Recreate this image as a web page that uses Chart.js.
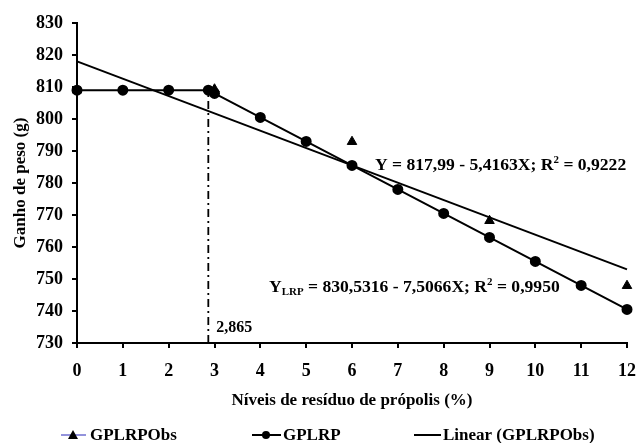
<!DOCTYPE html>
<html>
<head>
<meta charset="utf-8">
<script src="https://cdn.jsdelivr.net/npm/chart.js@4.4.1/dist/chart.umd.min.js"></script>
<style>
    body { margin: 0; background: #fff; overflow: hidden; }
    #wrap { width: 639px; height: 443px; position: relative; }
</style>
</head>
<body>
<div id="wrap"><canvas id="chart"></canvas></div>
<script>
// observed values (triangles)
const obsX = [0, 3, 6, 9, 12];
const obsY = [809.0, 809.3, 792.9, 768.2, 747.9];

// linear response plateau (circles)
const lrpX = [0, 1, 2, 2.865, 3, 4, 5, 6, 7, 8, 9, 10, 11, 12];
const lrpY = [809.0, 809.0, 809.0, 809.0, 808.0, 800.5, 793.0, 785.5, 778.0, 770.5, 763.0, 755.5, 748.0, 740.5];

// linear trend of observed
const linX = [0, 12];
const linY = [818.0, 753.0];

// plateau break
const breakX = 2.865;
const breakLabel = "2,865";

const yMin = 730, yMax = 830, yStep = 10;
const xMin = 0, xMax = 12;

const FONT = "'Liberation Serif', 'Times New Roman', serif";

function pts(xs, ys) {
    return xs.map((x, i) => ({ x: x, y: ys[i] }));
}

// text with sub/superscripts, parts = [[text, kind]]
function drawRich(ctx, parts, x, y, size) {
    let cx = x;
    parts.forEach(([t, kind]) => {
        let s = size, dy = 0;
        if (kind === "sub") { s = size * 0.62; dy = 3; }
        if (kind === "sup") { s = size * 0.62; dy = -7; }
        ctx.font = `bold ${s}px ${FONT}`;
        ctx.fillText(t, cx, y + dy);
        cx += ctx.measureText(t).width;
    });
}

const extras = {
    id: "extras",
    afterDraw(chart) {
        const ctx = chart.ctx;
        const xs = chart.scales.x, ys = chart.scales.y;
        ctx.save();
        ctx.fillStyle = "#000";
        ctx.textBaseline = "alphabetic";
        ctx.textAlign = "left";

        // break value label
        ctx.font = `bold 16px ${FONT}`;
        ctx.fillText(breakLabel, xs.getPixelForValue(breakX) + 8, ys.getPixelForValue(733.4));

        // equations
        drawRich(ctx, [["Y = 817,99 - 5,4163X; R", ""], ["2", "sup"], [" = 0,9222", ""]],
            xs.getPixelForValue(6.5), ys.getPixelForValue(784.1), 17.6);
        drawRich(ctx, [["Y", ""], ["LRP", "sub"], [" = 830,5316 - 7,5066X; R", ""], ["2", "sup"], [" = 0,9950", ""]],
            xs.getPixelForValue(4.19), ys.getPixelForValue(745.9), 17.6);

        // legend
        const ly = 435;
        ctx.font = `bold 17px ${FONT}`;
        ctx.lineWidth = 1;
        ctx.strokeStyle = "#2626b8";
        ctx.beginPath(); ctx.moveTo(61, ly); ctx.lineTo(86, ly); ctx.stroke();
        ctx.beginPath(); ctx.moveTo(73, ly - 5); ctx.lineTo(78, ly + 4); ctx.lineTo(68, ly + 4); ctx.closePath(); ctx.fill();
        ctx.textBaseline = "middle";
        ctx.fillText("GPLRPObs", 90, ly + 1);

        ctx.strokeStyle = "#000";
        ctx.lineWidth = 2;
        ctx.beginPath(); ctx.moveTo(252, ly); ctx.lineTo(281, ly); ctx.stroke();
        ctx.beginPath(); ctx.arc(266, ly, 4, 0, Math.PI * 2); ctx.fill();
        ctx.fillText("GPLRP", 283, ly + 1);

        ctx.beginPath(); ctx.moveTo(414, ly); ctx.lineTo(441, ly); ctx.stroke();
        ctx.fillText("Linear (GPLRPObs)", 443, ly + 1);
        ctx.restore();
    }
};

new Chart(document.getElementById("chart"), {
    type: "scatter",
    data: {
        datasets: [
            {
                label: "Linear (GPLRPObs)",
                data: pts(linX, linY),
                showLine: true,
                borderColor: "#000",
                borderWidth: 2,
                pointRadius: 0,
                clip: false,
            },
            {
                label: "quebra",
                data: [{ x: breakX, y: yMin }, { x: breakX, y: 809.0 }],
                showLine: true,
                borderColor: "#000",
                borderWidth: 1.8,
                borderDash: [8, 4, 2, 4],
                pointRadius: 0,
                clip: false,
            },
            {
                label: "GPLRP",
                data: pts(lrpX, lrpY),
                showLine: true,
                borderColor: "#000",
                backgroundColor: "#000",
                borderWidth: 2,
                pointRadius: 4.5,
                pointStyle: "circle",
                clip: false,
            },
            {
                label: "GPLRPObs",
                data: pts(obsX, obsY),
                showLine: false,
                borderColor: "#000",
                backgroundColor: "#000",
                pointRadius: 5.5,
                pointStyle: "triangle",
                clip: false,
            },
        ],
    },
    options: {
        responsive: true,
        maintainAspectRatio: false,
        animation: false,
        layout: { padding: { left: 2, top: 23, right: 12, bottom: 30 } },
        plugins: {
            legend: { display: false },
            tooltip: { enabled: false },
        },
        scales: {
            x: {
                type: "linear",
                min: xMin,
                max: xMax,
                afterFit: (s) => { s.height = 70; s.paddingLeft = 0; s.paddingRight = 0; },
                ticks: {
                    stepSize: 1,
                    color: "#000",
                    padding: 13,
                    font: { family: FONT, size: 18, weight: "bold" },
                },
                grid: { drawOnChartArea: false, drawTicks: true, tickLength: 5, color: "#000", lineWidth: 2 },
                border: { color: "#000", width: 2 },
                title: {
                    display: true,
                    text: "Níveis de resíduo de própolis (%)",
                    color: "#000",
                    padding: { top: 0, bottom: 2 },
                    font: { family: FONT, size: 17, weight: "bold" },
                },
            },
            y: {
                type: "linear",
                min: yMin,
                max: yMax,
                afterFit: (s) => { s.width = 75; },
                ticks: {
                    stepSize: yStep,
                    color: "#000",
                    padding: 9,
                    font: { family: FONT, size: 18, weight: "bold" },
                },
                grid: { drawOnChartArea: false, drawTicks: true, tickLength: 5, color: "#000", lineWidth: 2 },
                border: { color: "#000", width: 2 },
                title: {
                    display: true,
                    text: "Ganho de peso (g)",
                    color: "#000",
                    padding: { top: 8, bottom: 0 },
                    font: { family: FONT, size: 17, weight: "bold" },
                },
            },
        },
    },
    plugins: [extras],
});
</script>
</body>
</html>
